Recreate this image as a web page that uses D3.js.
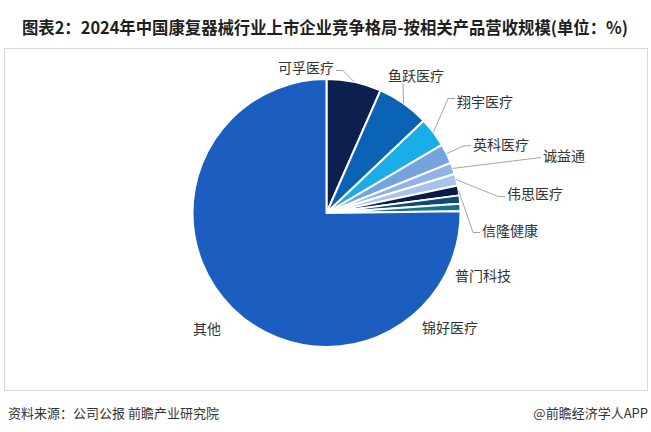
<!DOCTYPE html>
<html>
<head>
<meta charset="utf-8">
<script src="https://cdn.jsdelivr.net/npm/d3@7"></script>
<style>
  html, body { margin: 0; padding: 0; background: #ffffff; }
  svg { display: block; font-family: "Noto Sans CJK SC", "Noto Sans", sans-serif; }
</style>
</head>
<body>
<svg id="chart" width="651" height="432"></svg>
<script>
// ---- data ----
const categories = ["可孚医疗", "鱼跃医疗", "翔宇医疗", "英科医疗", "诚益通", "伟思医疗", "信隆健康", "普门科技", "锦好医疗", "其他"];
const shares = [6.6, 6.3, 3.6, 2.4, 1.4, 1.4, 1.2, 1.0, 0.9, 75.2];
const sliceColors = ["#0c1f4e", "#0b63b6", "#1aade8", "#74a3e0", "#91b3e6", "#a9c3ea", "#0a1c45", "#0e4b79", "#17708f", "#1b5ec0"];
const titleText = "图表2：2024年中国康复器械行业上市企业竞争格局-按相关产品营收规模(单位：%)";
const sourceText = "资料来源：公司公报 前瞻产业研究院";
const brandText = "@前瞻经济学人APP";

// label layout (text anchor point and leader elbows)
const labelLayout = [
  { x: 334, y: 67, anchor: "end",   path: [[336, 70.5], [343, 70.5]] },
  { x: 388, y: 75, anchor: "start", path: [[403, 84]] },
  { x: 457, y: 101, anchor: "start", path: [[455, 98.5], [448, 98.5]] },
  { x: 473, y: 144, anchor: "start", path: [[471, 145.5], [463, 146]] },
  { x: 543, y: 155, anchor: "start", path: [[541, 157.5]] },
  { x: 507, y: 193, anchor: "start", path: [[505, 196.5], [498, 196.5]] },
  { x: 482, y: 230, anchor: "start", path: [[480, 232.5], [473, 232.5]] },
  { x: 455, y: 275, anchor: "start", path: null },
  { x: 422, y: 327, anchor: "start", path: null },
  { x: 193, y: 328, anchor: "start", path: null }
];

const svg = d3.select("#chart");
const W = 651, H = 432;

// outer frame
svg.append("rect")
  .attr("x", 4.5).attr("y", 48.5)
  .attr("width", 643).attr("height", 342)
  .attr("fill", "none").attr("stroke", "#d9d9d9").attr("stroke-width", 1);

// title
svg.append("text")
  .attr("x", 22).attr("y", 26)
  .attr("dominant-baseline", "central")
  .attr("font-size", 17).attr("font-weight", "bold")
  .attr("fill", "#1f1f1f")
  .attr("textLength", 606).attr("lengthAdjust", "spacingAndGlyphs")
  .text(titleText);

// pie
const cx = 326.5, cy = 213, R = 134;
const data = categories.map((c, i) => ({ name: c, value: shares[i], color: sliceColors[i], layout: labelLayout[i] }));
const pie = d3.pie().value(d => d.value).sort(null).startAngle(0).endAngle(2 * Math.PI);
const arcs = pie(data);
const arc = d3.arc().innerRadius(0).outerRadius(R);
const edgeArc = d3.arc().innerRadius(R).outerRadius(R);

const g = svg.append("g").attr("transform", `translate(${cx},${cy})`);
g.selectAll("path.slice")
  .data(arcs)
  .join("path")
  .attr("class", "slice")
  .attr("d", arc)
  .attr("fill", d => d.data.color)
  .attr("stroke", "#ffffff")
  .attr("stroke-width", 2)
  .attr("stroke-linejoin", "round");

// leader lines
const line = d3.line();
arcs.forEach(a => {
  const L = a.data.layout;
  if (L.path) {
    const c = edgeArc.centroid(a);
    const pts = L.path.map(p => [p[0], p[1]]).concat([[cx + c[0], cy + c[1]]]);
    svg.append("path")
      .attr("d", line(pts))
      .attr("fill", "none")
      .attr("stroke", "#a6a6a6")
      .attr("stroke-width", 1);
  }
});

// labels
svg.selectAll("text.lbl")
  .data(arcs)
  .join("text")
  .attr("class", "lbl")
  .attr("x", d => d.data.layout.x)
  .attr("y", d => d.data.layout.y)
  .attr("text-anchor", d => d.data.layout.anchor)
  .attr("dominant-baseline", "central")
  .attr("font-size", 14)
  .attr("fill", "#333333")
  .text(d => d.data.name);

// footer
svg.append("text")
  .attr("x", 8).attr("y", 412)
  .attr("dominant-baseline", "central")
  .attr("font-size", 13).attr("fill", "#333333")
  .text(sourceText);
svg.append("text")
  .attr("x", 648).attr("y", 412)
  .attr("text-anchor", "end")
  .attr("dominant-baseline", "central")
  .attr("font-size", 13).attr("fill", "#333333")
  .text(brandText);
</script>
</body>
</html>
